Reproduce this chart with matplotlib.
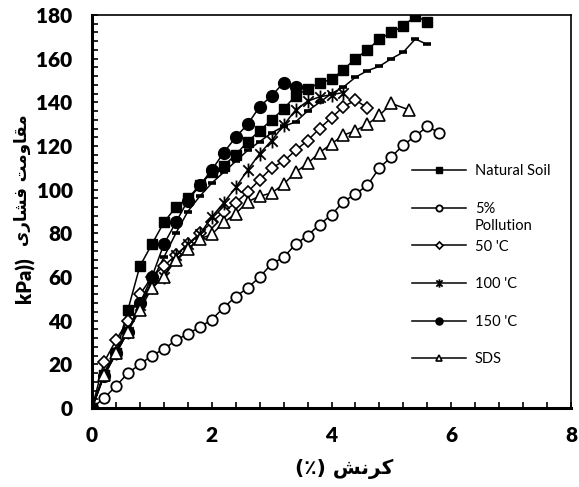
import matplotlib
matplotlib.use("Agg")
import matplotlib.pyplot as plt
from matplotlib.path import Path
from matplotlib.ticker import MultipleLocator

# ---- data (strain %, stress kPa) ----
strain_nat = [0, 0.2, 0.4, 0.6, 0.8, 1.0, 1.2, 1.4, 1.6, 1.8, 2.0, 2.2, 2.4, 2.6, 2.8,
              3.0, 3.2, 3.4, 3.6, 3.8, 4.0, 4.2, 4.4, 4.6, 4.8, 5.0, 5.2, 5.4, 5.6]
stress_nat = [0, 15, 25, 45, 65, 75, 85, 92, 96, 102, 108, 111, 116, 122, 127,
              132, 137, 143, 146, 149, 150.5, 155, 160, 164, 169, 172, 175, 179.5, 177]

# second natural-soil style curve (dash markers, not in legend)
strain_dash = strain_nat
stress_dash = [0, 16, 26, 36, 47, 58, 69, 80, 90, 97, 103, 108, 113, 118, 122,
               126, 129, 131, 136, 140, 144, 147, 151.5, 154.5, 156.5, 160, 163, 169, 166.5]

strain_pol = [0, 0.2, 0.4, 0.6, 0.8, 1.0, 1.2, 1.4, 1.6, 1.8, 2.0, 2.2, 2.4, 2.6, 2.8,
              3.0, 3.2, 3.4, 3.6, 3.8, 4.0, 4.2, 4.4, 4.6, 4.8, 5.0, 5.2, 5.4, 5.6, 5.8]
stress_pol = [0, 4.5, 10, 16, 20, 24, 27, 31, 34, 37, 40.5, 46, 51, 55, 60,
              66, 69, 75, 79, 84, 88.5, 94.5, 98, 102, 110, 115, 120.5, 124.5, 129, 126]

strain_50 = [0, 0.2, 0.4, 0.6, 0.8, 1.0, 1.2, 1.4, 1.6, 1.8, 2.0, 2.2, 2.4, 2.6, 2.8,
             3.0, 3.2, 3.4, 3.6, 3.8, 4.0, 4.2, 4.4, 4.6]
stress_50 = [0, 21, 31, 40, 52, 60, 65, 70, 75, 80, 85, 90, 94, 99, 104.5,
             110, 113, 118, 122.5, 128, 133, 138, 141, 137.5]

strain_100 = [0, 0.2, 0.4, 0.6, 0.8, 1.0, 1.2, 1.4, 1.6, 1.8, 2.0, 2.2, 2.4, 2.6, 2.8,
              3.0, 3.2, 3.4, 3.6, 3.8, 4.0, 4.2]
stress_100 = [0, 15, 25, 35, 47, 55.5, 60, 70, 75, 79.5, 87.5, 94, 101, 109, 116.5,
              122.5, 129.5, 136.5, 140.5, 142.5, 143.5, 144.5]

strain_150 = [0, 0.2, 0.4, 0.6, 0.8, 1.0, 1.2, 1.4, 1.6, 1.8, 2.0, 2.2, 2.4, 2.6, 2.8,
              3.0, 3.2, 3.4]
stress_150 = [0, 14.5, 25, 35, 48, 60, 75, 85, 95, 102, 109, 117, 124, 130, 138,
              143, 149, 147]

strain_sds = [0, 0.2, 0.4, 0.6, 0.8, 1.0, 1.2, 1.4, 1.6, 1.8, 2.0, 2.2, 2.4, 2.6, 2.8,
              3.0, 3.2, 3.4, 3.6, 3.8, 4.0, 4.2, 4.4, 4.6, 4.8, 5.0, 5.3]
stress_sds = [0, 15, 25, 35, 45, 55, 60, 68, 73, 77.5, 79.5, 85, 89, 94.5, 97,
              98.5, 102.5, 108, 112, 117, 121, 125, 127, 130, 134, 139.5, 136.5]

# persian labels in presentation forms, visual order (matplotlib has no shaping)
xlabel_fa = "(\u066A) \uFEB6\uFEE7\uFEAE\uFB90"
ylabel_fa = "\uFEEF\uFEAD\uFE8E\uFEB8\uFED3 \uFE96\uFEE3\uFEED\uFE8E\uFED8\uFEE3"
ylabel_unit = "kPa))"

# Excel style asterisk: X plus vertical bar
star = Path([(0, -1), (0, 1), (-0.75, -0.75), (0.75, 0.75), (-0.75, 0.75), (0.75, -0.75)],
            [Path.MOVETO, Path.LINETO, Path.MOVETO, Path.LINETO, Path.MOVETO, Path.LINETO])

fig = plt.figure(figsize=(5.79, 4.87), dpi=100)
ax = fig.add_axes([0.1589, 0.1622, 0.8273, 0.807])

lw = 1.1
ax.plot(strain_dash, stress_dash, color="k", lw=lw, marker="_", ms=6, mew=2.6, label="_dash")
ax.plot(strain_nat, stress_nat, color="k", lw=lw, marker="s", ms=7.5, mfc="k", mec="k",
        label="Natural Soil")
ax.plot(strain_pol, stress_pol, color="k", lw=lw, marker="o", ms=7.5, mfc="white", mec="k",
        mew=1.3, label="5%")
ax.plot(strain_50, stress_50, color="k", lw=lw, marker="D", ms=6, mfc="white", mec="k",
        mew=1.2, label="50 'C")
ax.plot(strain_100, stress_100, color="k", lw=lw, marker=star, ms=10, mfc="none", mec="k",
        mew=1.3, label="100 'C")
ax.plot(strain_150, stress_150, color="k", lw=lw, marker="o", ms=8.5, mfc="k", mec="k",
        label="150 'C")
ax.plot(strain_sds, stress_sds, color="k", lw=lw, marker="^", ms=8, mfc="white", mec="k",
        mew=1.2, label="SDS")

ax.set_xlim(0, 8)
ax.set_ylim(0, 180)
ax.xaxis.set_major_locator(MultipleLocator(2))
ax.xaxis.set_minor_locator(MultipleLocator(0.4))
ax.yaxis.set_major_locator(MultipleLocator(20))
ax.yaxis.set_minor_locator(MultipleLocator(4))
ax.tick_params(which="both", direction="in", length=4, width=1.2, top=False, right=False)
ax.tick_params(axis="x", which="major", pad=13)
ax.tick_params(axis="y", which="major", pad=14)
for lab in ax.get_xticklabels() + ax.get_yticklabels():
    lab.set_family(["Lato", "DejaVu Sans"])
    lab.set_fontweight("heavy")
    lab.set_fontsize(15)

ax.spines["left"].set_linewidth(2.2)
ax.spines["bottom"].set_linewidth(2.2)
ax.spines["top"].set_linewidth(1.2)
ax.spines["right"].set_linewidth(1.2)

ax.set_xlabel(xlabel_fa, family=["DejaVu Sans"], fontweight="bold", fontsize=14.5)
ax.xaxis.set_label_coords(0.526, -0.128)

# y label: unit at the bottom, persian words above it
fig.text(25 / 579, 1 - 280 / 487, ylabel_unit, rotation=90, ha="center", va="center",
         family="Lato", fontweight="heavy", fontsize=14.5)
fig.text(22 / 579, 1 - 180 / 487, ylabel_fa, rotation=90, ha="center", va="center",
         family="DejaVu Sans", fontweight="bold", fontsize=12)

leg = ax.legend(loc="upper left", bbox_to_anchor=(0.668, 0.62), frameon=False,
                prop={"family": "Lato", "size": 10.5}, handlelength=3.7, handletextpad=0.6,
                labelspacing=1.62, borderpad=0, borderaxespad=0, markerscale=0.6)

# second line of the "5% Pollution" label
fig.canvas.draw()
bb = leg.get_texts()[1].get_window_extent()
x0, y0 = fig.transFigure.inverted().transform((bb.x0, bb.y0))
fig.text(x0, y0 - 0.006, "Pollution", family="Lato", fontsize=10.5, va="top", ha="left")

fig.savefig("out.png", dpi=100)
